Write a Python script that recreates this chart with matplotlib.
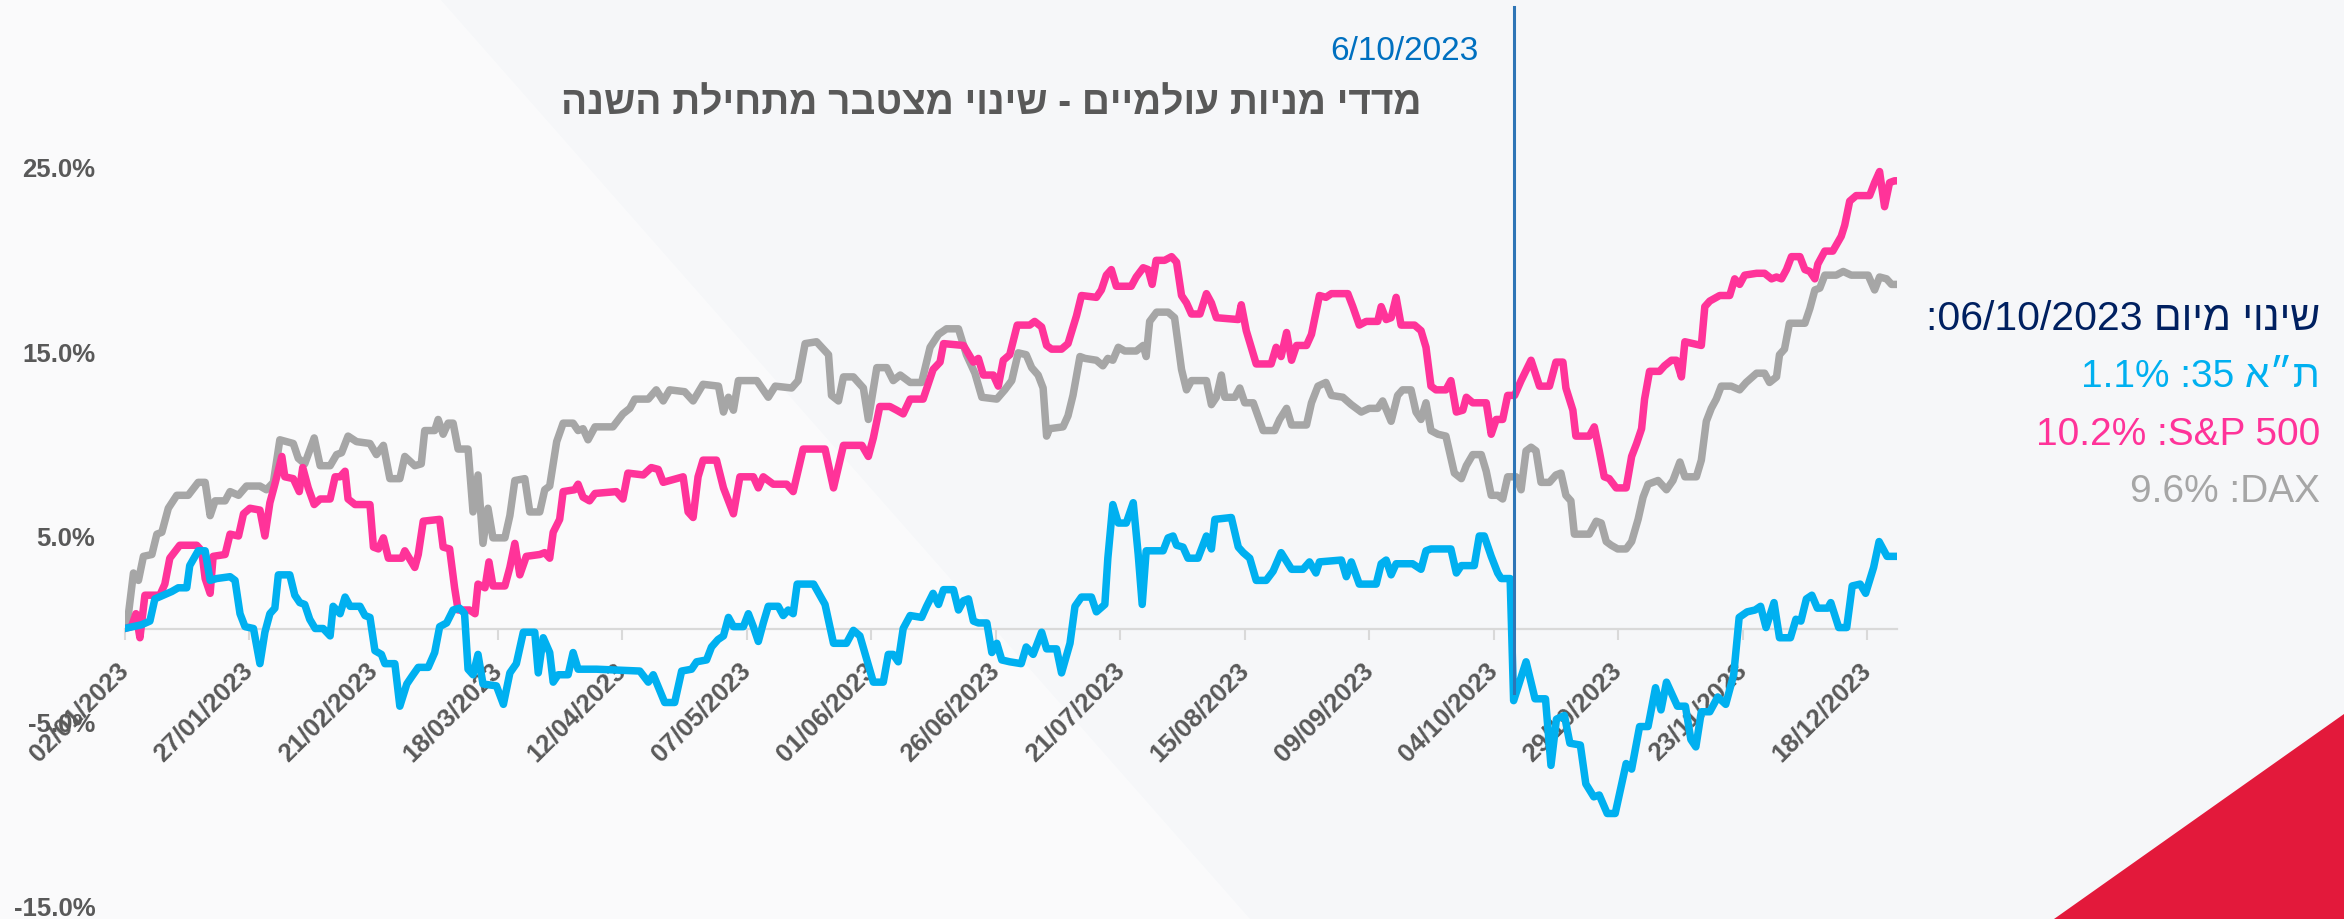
import matplotlib
matplotlib.use("Agg")
import matplotlib.pyplot as plt
import matplotlib.dates as mdates
import numpy as np
from matplotlib.patches import Polygon

plt.rcParams["font.family"] = ["Liberation Sans", "DejaVu Sans"]

# =========================
# DATA  (days counted from 02/01/2023, cumulative change in %)
# =========================
ta35_days = [0, 3.4, 5.1, 6.1, 7.8, 9.5, 10.8, 12.5, 13.1, 14.8, 16.2, 17.2, 18.5, 21.2, 22.2, 23.2,
             24.2, 25.9, 27.2, 28.2, 29.2, 30.2, 30.9, 33.2, 34.2, 35.2, 36.2, 37.2, 38.3, 39.9, 41.3,
             41.9, 43.3, 44.3, 45.3, 47.3, 48.3, 49.3, 50.3, 51.6, 52.3, 54.3, 55.3, 56.7, 57.7, 59.0,
             61.0, 62.3, 63.3, 64.7, 66.0, 67.3, 68.3, 69.0, 70.0, 71.0, 72.0, 74.7, 76.1, 77.4, 78.7,
             80.1, 82.4, 83.1, 84.1, 85.4, 86.1, 87.1, 89.1, 90.1, 91.1, 94.8, 103.5, 105.2, 106.2,
             108.5, 110.5, 111.9, 113.9, 114.9, 116.9, 117.9, 119.2, 120.3, 121.3, 122.3, 124.3, 125.3,
             126.3, 127.3, 128.3, 129.3, 131.3, 132.3, 133.3, 134.3, 135.1, 138.4, 140.7, 142.4, 145.0,
             146.4, 147.7, 149.1, 150.4, 152.4, 153.4, 154.4, 155.4, 156.4, 157.8, 160.1, 161.1, 162.4,
             163.5, 164.5, 166.5, 167.5, 168.5, 169.5, 170.5, 171.5, 173.2, 174.2, 175.2, 176.2, 177.8,
             180.1, 181.1, 182.5, 184.2, 185.2, 187.2, 188.2, 189.9, 190.9, 192.2, 194.2, 195.2, 196.9,
             197.5, 198.5, 199.6, 201.2, 202.6, 203.6, 204.4, 205.2, 208.6, 209.6, 210.6, 211.3, 212.6,
             213.6, 215.6, 217.3, 218.3, 219.0, 222.3, 223.7, 224.7, 226.0, 227.3, 229.3, 230.7, 232.3,
             234.4, 236.7, 238.0, 239.3, 240.0, 244.4, 245.4, 246.4, 248.0, 251.4, 252.4, 253.4, 254.4,
             255.4, 258.7, 260.4, 261.4, 262.4, 266.4, 267.5, 268.5, 271.1, 272.1, 273.1, 274.5, 275.8,
             276.5, 278.3, 279.0, 281.5, 283.3, 285.4, 286.5, 287.6, 289.2, 290.3, 292.4, 293.5, 295.1,
             296.2, 297.8, 299.4, 301.6, 302.7, 304.3, 306.0, 307.5, 308.6, 309.7, 311.9, 313.5, 314.6,
             315.6, 316.7, 318.4, 320.0, 321.6, 323.2, 324.3, 325.9, 327.5, 328.6, 329.7, 331.3, 332.4,
             334.6, 335.7, 336.7, 337.8, 338.9, 340.0, 342.1, 342.7, 344.3, 345.9, 347.0, 348.6, 349.7,
             351.3, 352.4, 354.0, 356.0]
ta35_pct = [0.0, 0.2, 0.4, 1.6, 1.8, 2.0, 2.2, 2.2, 3.4, 4.2, 4.2, 2.6, 2.7, 2.8, 2.6, 0.8,
            0.1, 0.0, -1.9, -0.2, 0.8, 1.1, 2.9, 2.9, 1.8, 1.4, 1.3, 0.5, 0.0, 0.0, -0.4,
            1.2, 0.8, 1.7, 1.2, 1.2, 0.7, 0.6, -1.2, -1.4, -1.9, -1.9, -4.2, -3.0, -2.6, -2.1,
            -2.1, -1.3, 0.1, 0.3, 1.0, 1.1, 0.8, -2.2, -2.5, -1.4, -3.0, -3.1, -4.1, -2.4, -1.9,
            -0.2, -0.2, -2.4, -0.5, -1.3, -2.9, -2.5, -2.5, -1.3, -2.2, -2.2, -2.3, -2.9, -2.5,
            -4.0, -4.0, -2.3, -2.2, -1.8, -1.7, -1.0, -0.6, -0.4, 0.6, 0.1, 0.1, 0.8,
            0.1, -0.7, 0.3, 1.2, 1.2, 0.7, 1.0, 0.8, 2.4, 2.4, 1.3, -0.8, -0.8,
            -0.1, -0.4, -1.7, -2.9, -2.9, -1.4, -1.4, -1.8, 0.0, 0.7, 0.6, 1.2, 1.9,
            1.3, 2.1, 2.1, 1.0, 1.5, 1.6, 0.4, 0.3, 0.3, -1.3, -0.8, -1.7, -1.8,
            -1.9, -1.0, -1.4, -0.2, -1.1, -1.1, -2.4, -0.8, 1.2, 1.7, 1.7, 0.9, 1.3,
            3.8, 6.7, 5.7, 5.7, 6.8, 4.0, 1.3, 4.2, 4.2, 4.9, 5.0, 4.5, 4.4,
            3.8, 3.8, 5.0, 4.3, 5.9, 6.0, 4.4, 4.1, 3.8, 2.6, 2.6, 3.1, 4.1,
            3.2, 3.2, 3.6, 3.0, 3.6, 3.7, 2.8, 3.6, 2.4, 2.4, 3.5, 3.7, 2.9,
            3.5, 3.5, 3.2, 4.2, 4.3, 4.3, 3.0, 3.4, 3.4, 5.0, 5.0, 3.9, 3.0,
            2.7, 2.7, -3.9, -1.8, -3.8, -3.8, -7.4, -4.9, -4.7, -6.2, -6.3, -8.4, -9.1,
            -9.0, -10.0, -10.0, -7.3, -7.6, -5.3, -5.3, -3.2, -4.4, -2.9, -4.2, -4.2, -6.0,
            -6.4, -4.5, -4.5, -3.7, -4.1, -2.5, 0.6, 0.9, 1.0, 1.2, 0.05, 1.4, -0.5,
            -0.5, 0.5, 0.4, 1.6, 1.8, 1.1, 1.1, 1.4, 0.05, 0.05, 2.3, 2.4, 1.9,
            3.3, 4.7, 3.9, 3.9]

sp500_days = [0, 1.4, 2.3, 3.1, 4.1, 7.1, 8.1, 9.1, 11.1, 14.5, 15.5, 16.2, 17.2, 17.8, 20.2, 21.2,
              22.9, 23.9, 25.2, 27.2, 28.2, 29.2, 30.2, 31.6, 32.2, 33.9, 35.1, 35.8, 36.9, 38.1,
              39.3, 41.3, 42.3, 43.3, 44.3, 44.9, 46.3, 49.3, 50.0, 51.0, 52.0, 53.0, 55.7, 56.3,
              58.3, 59.0, 60.0, 63.3, 64.0, 65.3, 66.3, 67.0, 69.3, 70.4, 71.0, 72.4, 73.2, 74.0,
              76.4, 77.4, 78.4, 79.4, 80.7, 83.4, 84.4, 85.4, 86.1, 87.4, 88.1, 90.4, 91.1, 92.1,
              93.4, 94.5, 98.8, 100.1, 101.1, 104.2, 105.8, 107.2, 108.2, 112.2, 113.2, 114.2, 115.2,
              116.2, 118.9, 120.3, 122.3, 123.6, 126.3, 127.3, 128.3, 130.3, 133.0, 134.3, 136.3,
              140.7, 142.4, 144.4, 148.1, 149.4, 150.4, 151.7, 153.7, 155.1, 156.4, 157.8, 160.4,
              162.4, 163.8, 164.5, 168.5, 170.5, 171.5, 172.5, 174.5, 175.5, 176.5, 177.8, 179.3,
              181.8, 182.8, 184.2, 185.2, 186.2, 188.2, 189.5, 191.2, 192.2, 195.2, 196.2, 197.2,
              198.2, 199.2, 202.2, 203.2, 204.6, 205.6, 206.4, 207.2, 208.9, 210.3, 211.3, 212.3,
              213.3, 214.3, 216.0, 217.3, 218.3, 219.3, 223.7, 224.3, 225.3, 227.3, 230.3, 231.3,
              232.3, 233.4, 234.4, 235.4, 237.4, 238.4, 240.0, 241.3, 242.4, 245.7, 246.7, 248.0,
              249.4, 251.7, 252.4, 253.4, 254.4, 255.4, 256.4, 259.1, 260.4, 261.4, 262.4, 263.4,
              265.4, 266.4, 267.5, 268.8, 269.5, 270.8, 273.5, 274.5, 275.5, 276.8, 277.8, 279.2,
              280.5, 282.5, 284.2, 286.2, 287.5, 288.9, 289.5, 290.9, 291.5, 294.2, 295.2, 296.2,
              297.2, 298.2, 299.6, 301.6, 302.7, 303.7, 304.7, 305.3, 306.3, 308.3, 309.3, 310.7,
              311.7, 312.7, 313.4, 316.7, 317.4, 318.4, 320.4, 322.4, 323.4, 324.4, 325.4, 327.8,
              329.4, 330.8, 331.8, 332.8, 333.8, 334.8, 336.5, 337.5, 338.5, 339.5, 340.1, 341.5,
              343.1, 344.8, 345.5, 346.5, 347.8, 350.5, 351.5, 352.5, 353.5, 354.5, 355.5, 356.0]
sp500_pct = [0.0, 0.1, 0.8, -0.5, 1.8, 1.8, 2.4, 3.8, 4.5, 4.5, 4.2, 2.7, 1.9, 3.9, 4.0, 5.1,
             5.0, 6.2, 6.5, 6.4, 5.0, 6.8, 7.8, 9.3, 8.2, 8.1, 7.4, 8.7, 7.6, 6.7,
             7.0, 7.0, 8.2, 8.2, 8.5, 7.0, 6.7, 6.7, 4.4, 4.3, 4.9, 3.8, 3.8, 4.2,
             3.3, 4.0, 5.8, 5.9, 4.4, 4.3, 2.2, 1.0, 1.0, 0.8, 2.4, 2.2, 3.6, 2.3,
             2.3, 3.3, 4.6, 2.9, 3.9, 4.0, 4.1, 3.8, 5.2, 5.9, 7.4, 7.5, 7.8, 7.1,
             6.9, 7.3, 7.4, 7.0, 8.4, 8.3, 8.7, 8.6, 7.9, 8.2, 6.3, 6.0, 8.2,
             9.1, 9.1, 7.6, 6.2, 8.2, 8.2, 7.6, 8.2, 7.8, 7.8, 7.4, 9.7,
             9.7, 7.6, 9.9, 9.9, 9.3, 10.3, 12.0, 12.0, 11.8, 11.6, 12.4, 12.4,
             14.0, 14.4, 15.4, 15.3, 14.4, 14.6, 13.7, 13.7, 13.1, 14.5, 14.8, 16.4,
             16.4, 16.6, 16.3, 15.3, 15.1, 15.1, 15.4, 16.9, 18.0, 17.9, 18.3, 19.1,
             19.4, 18.5, 18.5, 19.0, 19.5, 19.4, 18.6, 19.9, 19.9, 20.1, 19.8, 18.0,
             17.6, 17.0, 17.0, 18.1, 17.6, 16.8, 16.7, 17.5, 16.1, 14.3, 14.3, 15.2,
             14.7, 16.0, 14.5, 15.3, 15.3, 15.9, 18.0, 17.9, 18.1, 18.1, 17.4, 16.4,
             16.6, 16.6, 17.4, 16.7, 16.8, 17.9, 16.4, 16.4, 16.1, 15.2, 13.1, 12.9,
             12.9, 13.4, 11.7, 11.8, 12.5, 12.2, 12.2, 10.5, 11.3, 11.3, 12.6, 12.6,
             13.4, 14.5, 13.1, 13.1, 14.4, 14.4, 13.0, 11.8, 10.4, 10.4, 10.9, 9.6,
             8.2, 8.1, 7.6, 7.6, 9.3, 10.0, 10.8, 12.4, 13.9, 13.9, 14.2, 14.5,
             14.5, 13.6, 15.5, 15.3, 17.4, 17.7, 18.0, 18.0, 18.9, 18.6, 19.1, 19.2,
             19.2, 18.9, 19.0, 18.9, 19.4, 20.1, 20.1, 19.4, 19.3, 18.9, 19.7, 20.4,
             20.4, 21.2, 21.8, 23.1, 23.4, 23.4, 24.1, 24.7, 22.8, 24.1, 24.2, 24.2]

dax_days = [0, 0.8, 1.8, 2.8, 3.8, 5.5, 6.5, 7.5, 8.8, 10.5, 12.8, 14.8, 16.2, 17.2, 18.2, 20.2,
            21.2, 22.9, 24.5, 27.2, 28.5, 29.9, 31.2, 33.9, 34.9, 36.2, 38.1, 39.3, 41.3, 42.6,
            43.6, 44.9, 46.6, 49.3, 50.6, 52.0, 53.3, 55.3, 56.3, 58.3, 59.6, 60.3, 62.3, 63.0,
            64.0, 65.0, 66.0, 67.0, 69.0, 70.0, 71.0, 72.0, 73.0, 74.0, 76.4, 77.4, 78.4, 80.4,
            81.4, 83.4, 84.4, 85.4, 86.8, 88.1, 90.1, 91.1, 92.1, 93.1, 94.5, 98.1, 100.1, 101.5,
            102.5, 105.2, 106.8, 108.2, 109.5, 112.5, 114.2, 116.2, 119.3, 120.3, 121.3, 122.3,
            123.3, 127.0, 129.3, 130.7, 134.0, 135.3, 136.7, 139.0, 141.4, 142.0, 143.4, 144.4,
            146.4, 148.4, 149.4, 151.1, 153.1, 154.4, 155.8, 157.8, 160.1, 161.8, 163.5, 165.1,
            167.5, 169.1, 170.8, 172.2, 175.2, 176.8, 178.2, 179.5, 181.1, 182.2, 183.5, 184.5,
            185.2, 185.8, 188.5, 189.5, 190.5, 191.9, 192.9, 195.2, 196.5, 197.5, 198.5, 199.6,
            200.9, 203.2, 204.6, 205.2, 205.9, 207.3, 209.6, 210.9, 212.3, 213.3, 214.3, 217.3,
            218.3, 219.3, 220.3, 221.0, 223.0, 224.0, 225.0, 226.7, 228.7, 231.0, 232.0, 233.4,
            234.4, 237.4, 238.4, 239.7, 241.3, 242.4, 244.7, 246.4, 248.4, 250.0, 251.7, 252.7,
            254.4, 255.7, 256.7, 258.4, 259.4, 260.4, 261.4, 262.4, 263.8, 265.4, 267.1, 268.5,
            269.5, 270.8, 272.5, 273.5, 274.5, 275.8, 276.8, 277.8, 279.5, 280.5, 281.5, 282.5,
            283.5, 284.5, 286.2, 287.5, 288.5, 289.5, 290.5, 291.2, 294.2, 295.6, 296.6, 297.6,
            298.6, 299.9, 301.6, 302.7, 304.0, 305.0, 306.0, 308.0, 309.7, 311.0, 312.4, 313.4,
            315.7, 316.7, 317.7, 318.7, 319.7, 320.7, 322.7, 324.4, 325.7, 327.8, 329.4, 330.4,
            331.8, 332.4, 333.4, 334.4, 337.5, 338.5, 339.5, 340.5, 341.5, 343.8, 345.2, 346.8,
            350.2, 351.5, 352.5, 353.9, 354.9, 356.0]
dax_pct = [0.0, 0.8, 3.0, 2.6, 3.9, 4.0, 5.1, 5.2, 6.5, 7.2, 7.2, 7.9, 7.9, 6.1, 6.9, 6.9,
           7.4, 7.2, 7.7, 7.7, 7.5, 7.9, 10.2, 10.0, 9.2, 8.9, 10.3, 8.8, 8.8, 9.4,
           9.5, 10.4, 10.1, 10.0, 9.4, 9.9, 8.1, 8.1, 9.3, 8.8, 8.9, 10.7, 10.7, 11.3,
           10.5, 11.1, 11.1, 9.7, 9.7, 6.3, 8.3, 4.6, 6.5, 4.9, 4.9, 6.1, 8.0, 8.1,
           6.3, 6.3, 7.5, 7.7, 10.1, 11.1, 11.1, 10.7, 10.8, 10.2, 10.9, 10.9, 11.6, 11.9,
           12.4, 12.4, 12.9, 12.3, 12.9, 12.8, 12.3, 13.2, 13.1, 11.7, 12.5, 11.8,
           13.4, 13.4, 12.5, 13.1, 13.0, 13.4, 15.4, 15.5, 14.8, 12.6, 12.3, 13.6,
           13.6, 13.0, 11.3, 14.1, 14.1, 13.4, 13.7, 13.3, 13.3, 15.2, 15.9, 16.2,
           16.2, 14.8, 13.8, 12.5, 12.4, 12.9, 13.4, 14.9, 14.8, 14.1, 13.7, 13.0,
           10.4, 10.8, 10.9, 11.5, 12.6, 14.7, 14.6, 14.5, 14.2, 14.6, 14.5, 15.2,
           15.0, 15.0, 15.3, 14.7, 16.6, 17.1, 17.1, 16.8, 14.0, 12.9, 13.4, 13.4,
           12.1, 12.5, 13.7, 12.5, 12.5, 13.0, 12.2, 12.2, 10.7, 10.7, 11.3, 11.9,
           11.0, 11.0, 12.2, 13.1, 13.3, 12.6, 12.5, 12.1, 11.7, 11.9, 11.9, 12.3,
           11.2, 12.6, 12.9, 12.9, 11.7, 11.3, 12.2, 10.7, 10.5, 10.4, 8.4, 8.1,
           8.8, 9.4, 9.4, 8.5, 7.2, 7.2, 7.0, 8.2, 8.2, 7.5, 9.6, 9.8,
           9.6, 7.9, 7.9, 8.3, 8.4, 7.2, 6.9, 5.1, 5.1, 5.8, 5.7, 4.7,
           4.5, 4.3, 4.3, 4.7, 5.9, 7.1, 7.8, 8.0, 7.5, 8.0, 9.0, 8.2,
           8.2, 9.1, 11.2, 11.9, 12.4, 13.1, 13.1, 12.9, 13.3, 13.8, 13.8, 13.3,
           13.6, 14.8, 15.1, 16.5, 16.5, 17.3, 18.3, 18.4, 19.1, 19.1, 19.3, 19.1,
           19.1, 18.3, 19.0, 18.9, 18.6, 18.6]

start_date = np.datetime64("2023-01-02")
event_date = np.datetime64("2023-10-08")
tick_step_days = 25
axis_end_days = 356
y_ticks = [-15, -5, 5, 15, 25]

title_text = "מדדי מניות עולמיים - שינוי מצטבר מתחילת השנה"
event_label = "6/10/2023"
change_from = "06/10/2023"
legend_names = ["ת״א 35", "S&P 500", "DAX"]
legend_changes = [1.1, 10.2, 9.6]

C_TA = "#00B0F0"
C_SP = "#FF3399"
C_DAX = "#A6A6A6"
C_TEXT = "#595959"


def heb(word):
    # matplotlib has no bidi support: lay Hebrew words out visually
    return word[::-1]


def visual(s):
    words = s.split(" ")
    if any("\u0590" <= ch <= "\u05FF" for ch in s):
        words = [heb(w) if any("\u0590" <= ch <= "\u05FF" for ch in w) else w for w in words[::-1]]
    return " ".join(words)


def to_dates(days):
    return start_date + (np.array(days) * 24 * 60).round().astype("timedelta64[m]")


# =========================
# FIGURE
# =========================
W, H = 2344, 920
fig = plt.figure(figsize=(W / 100, H / 100), dpi=100)
fig.patch.set_facecolor("#F6F7F9")

bg = fig.add_axes([0, 0, 1, 1], zorder=0)
bg.set_xlim(0, W)
bg.set_ylim(H, 0)
bg.axis("off")
bg.add_patch(Polygon([(0, 0), (440, 0), (1250, H), (0, H)], closed=True, color="white", alpha=0.45, lw=0))
bg.add_patch(Polygon([(2054, H), (W, H), (W, 715)], closed=True, color="#E3193B", lw=0))

ax = fig.add_axes([124.5 / W, 13 / H, (1897 - 124.5) / W, 740 / H], zorder=1)
ax.patch.set_alpha(0)

for days, pct, col in [(dax_days, dax_pct, C_DAX), (sp500_days, sp500_pct, C_SP), (ta35_days, ta35_pct, C_TA)]:
    ax.plot(to_dates(days), pct, color=col, lw=5.4, solid_joinstyle="round", solid_capstyle="round", zorder=3)

ax.set_ylim(-15, 25)
ax.set_xlim(start_date, start_date + np.timedelta64(axis_end_days, "D"))

# axis at zero
for side in ["left", "right", "top"]:
    ax.spines[side].set_visible(False)
ax.spines["bottom"].set_position(("data", 0))
ax.spines["bottom"].set_color("#D9D9D9")
ax.spines["bottom"].set_linewidth(1.6)
ax.spines["bottom"].set_zorder(1)
ax.set_axisbelow(True)

ticks = start_date + np.arange(0, axis_end_days, tick_step_days).astype("timedelta64[D]")
ax.set_xticks(ticks)
ax.xaxis.set_major_formatter(mdates.DateFormatter("%d/%m/%Y"))
ax.tick_params(axis="x", direction="out", length=8, width=1.5, color="#D9D9D9",
               labelsize=18.5, labelcolor=C_TEXT, pad=19)
plt.setp(ax.get_xticklabels(), rotation=45, ha="right", va="center",
         rotation_mode="anchor", fontweight="bold")

ax.set_yticks(y_ticks)
ax.set_yticklabels([f"{v:.1f}%" for v in y_ticks])
ax.tick_params(axis="y", length=0, labelsize=18.5, labelcolor=C_TEXT, pad=21)
plt.setp(ax.get_yticklabels(), fontweight="bold")

# event line
ax.axvline(event_date, ymin=(-3.5 + 15) / 40, ymax=(H - 13 - 8) / 740, color="#2E75B6",
           lw=2.2, clip_on=False, zorder=4)

# =========================
# TEXTS
# =========================
fig.text(1479 / W, 1 - 52 / H, event_label, ha="right", va="center", fontsize=24, color="#0070C0")
fig.text(991 / W, 1 - 104 / H, heb(title_text), ha="center", va="center", fontsize=28,
         fontweight="bold", color=C_TEXT)

header = f":{change_from} {heb('מיום')} {heb('שינוי')}"
fig.text(2320 / W, 1 - 319 / H, header, ha="right", va="center", fontsize=29.5, color="#002060")
for i, (name, val, col) in enumerate(zip(legend_names, legend_changes, [C_TA, C_SP, C_DAX])):
    fig.text(2320 / W, 1 - (377 + 57.7 * i) / H, f"{val:.1f}% :{visual(name)}",
             ha="right", va="center", fontsize=28, color=col)

fig.savefig("out.png", dpi=100, facecolor=fig.get_facecolor())
